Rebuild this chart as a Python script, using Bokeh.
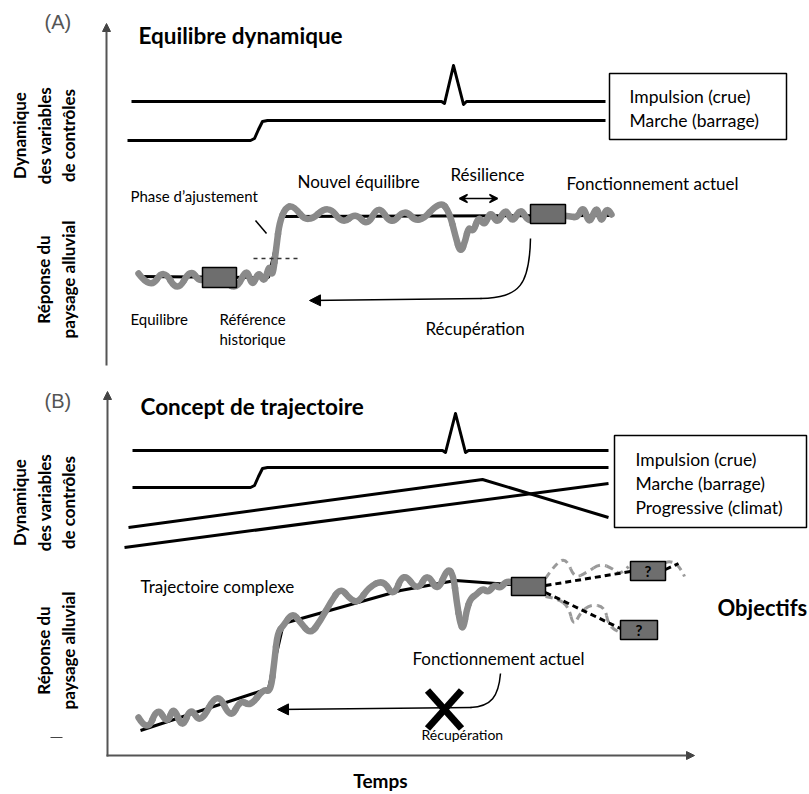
from bokeh.plotting import figure
from bokeh.models import Range1d, Arrow, NormalHead, VeeHead
from bokeh.core.properties import value
from bokeh.embed import file_html
from bokeh.resources import INLINE
import math

# ---------------- data (sketch coordinates, picture pixels) ----------------
# Panel A - control variables
A_imp_x = [131, 441, 444, 453, 463, 466, 605]
A_imp_y = [101, 101, 103, 65, 104, 101, 101]
A_step_x = [127, 250, 254, 258, 262, 267, 605]
A_step_y = [140, 140, 138, 129, 121, 120, 120]
# Panel A - landscape response
A_trend_x = [138, 268, 282, 612]
A_trend_y = [276, 277, 216, 215]
A_wave_x = [138, 150, 163, 177, 190, 200, 212, 225, 237, 246, 252, 258, 264, 269, 272, 276, 279, 285,
            293, 307, 328, 342, 355, 367, 378, 391, 404, 418, 440, 449, 455, 460, 465, 468, 473, 478,
            484, 490, 497, 505, 512, 520, 528, 538, 555, 570, 577, 583, 589, 596, 601, 606, 611]
A_wave_y = [273, 289, 268, 292, 268, 283, 270, 283, 288, 267, 287, 270, 283, 263, 278, 245, 222, 207,
            205, 223, 204, 224, 212, 226, 204, 225, 208, 224, 200, 212, 236, 253, 240, 226, 232, 215,
            226, 210, 224, 207, 223, 207, 222, 214, 214, 216, 217, 205, 225, 204, 224, 205, 214]
A_box_x = [219, 547.5]
A_box_y = [277, 213.5]

# Panel B - control variables
B_imp_x = [132, 442, 445, 455, 465, 468, 608]
B_imp_y = [450, 450, 452, 413, 452, 450, 450]
B_step_x = [132, 250, 254, 258, 262, 267, 608]
B_step_y = [487, 487, 485, 476, 468, 467, 467]
B_prog1_x = [128, 482, 608]
B_prog1_y = [527, 479, 517]
B_prog2_x = [124, 608]
B_prog2_y = [547, 483]
# Panel B - landscape response
B_trend_x = [140, 268, 283, 400, 455, 511]
B_trend_y = [730, 688, 623, 590, 580, 584]
B_wave_x = [138, 147, 157, 167, 173, 182, 190, 200, 217, 230, 240, 250, 263, 270, 274, 277, 283,
            292, 300, 310, 320, 330, 340, 350, 358, 368, 383, 393, 403, 417, 427, 437, 447, 453,
            456, 460, 463, 466, 470, 476, 482, 488, 494, 500, 506, 512]
B_wave_y = [717, 732, 706, 724, 705, 729, 706, 724, 690, 719, 699, 706, 688, 692, 660, 632, 625,
            612, 622, 634, 620, 602, 587, 599, 602, 587, 579, 597, 571, 591, 572, 592, 567, 575,
            600, 625, 628, 610, 598, 594, 588, 592, 584, 588, 580, 582]
B_up_x = [545, 630, 665, 678]
B_up_y = [585, 571, 569, 563]
B_low_x = [545, 620]
B_low_y = [592, 628]
B_gup_x = [545, 556, 566, 574, 586, 600, 612, 620, 628]
B_gup_y = [578, 562, 558, 578, 572, 563, 568, 575, 566]
B_gup2_x = [665, 676, 684]
B_gup2_y = [562, 558, 576]
B_glow_x = [545, 557, 568, 573, 580, 590, 604, 608, 615, 620]
B_glow_y = [596, 598, 606, 626, 612, 604, 606, 624, 630, 632]
B_box_x = [528, 647.5, 638.5]
B_box_y = [586, 570.5, 629.5]
B_box_w = [34, 35, 37]
B_box_h = [18, 19, 19]
B_box_txt = ["", "?", "?"]

FONT = value("Lato")
GREY = "#8a8a8a"

p = figure(width=809, height=794, x_range=Range1d(0, 809), y_range=Range1d(794, 0),
           output_backend="svg", toolbar_location=None, min_border=0,
           x_axis_location=None, y_axis_location=None, background_fill_color="white")
p.grid.visible = False
p.outline_line_color = None


def smooth(xs, ys, **kw):
    n = len(xs)
    x0, y0, x1, y1, cx, cy = [], [], [], [], [], []
    for i in range(1, n - 1):
        sx = xs[0] if i == 1 else (xs[i - 1] + xs[i]) / 2
        sy = ys[0] if i == 1 else (ys[i - 1] + ys[i]) / 2
        ex = xs[-1] if i == n - 2 else (xs[i] + xs[i + 1]) / 2
        ey = ys[-1] if i == n - 2 else (ys[i] + ys[i + 1]) / 2
        x0.append(sx); y0.append(sy); x1.append(ex); y1.append(ey)
        cx.append(xs[i]); cy.append(ys[i])
    p.quadratic(x0=x0, y0=y0, x1=x1, y1=y1, cx=cx, cy=cy, **kw)


def txt(x, y, s, size, bold=False, align="left", angle=0, color="black", font=FONT):
    p.text(x=[x], y=[y], text=[s], text_font=font, text_font_size=f"{size}px",
           text_font_style="bold" if bold else "normal", text_align=align,
           text_baseline="middle", angle=angle, text_color=color)


# axes
p.add_layout(Arrow(end=NormalHead(size=8, fill_color="#444", line_color="#444"),
                   x_start=106, y_start=365, x_end=106, y_end=23, line_color="#555", line_width=2))
p.add_layout(Arrow(end=NormalHead(size=8, fill_color="#444", line_color="#444"),
                   x_start=107, y_start=756, x_end=107, y_end=391, line_color="#555", line_width=2))
p.add_layout(Arrow(end=NormalHead(size=8, fill_color="#444", line_color="#444"),
                   x_start=106, y_start=755, x_end=694, y_end=755, line_color="#555", line_width=2))

# control variable lines
for xs, ys in [(A_imp_x, A_imp_y), (A_step_x, A_step_y), (B_imp_x, B_imp_y), (B_step_x, B_step_y),
               (B_prog1_x, B_prog1_y), (B_prog2_x, B_prog2_y)]:
    p.line(xs, ys, line_color="black", line_width=3, line_join="round")

# legend boxes
p.quad(left=[609, 614], right=[786, 806], top=[73, 435], bottom=[139, 527],
       fill_color="white", line_color="black", line_width=1.5)
for s, y in [("Impulsion (crue)", 96), ("Marche (barrage)", 120)]:
    txt(629, y, s, 17.5)
for s, y in [("Impulsion (crue)", 459), ("Marche (barrage)", 483), ("Progressive (climat)", 507)]:
    txt(635, y, s, 17.5)

# Panel A response
p.line(A_trend_x, A_trend_y, line_color="black", line_width=3)
smooth(A_wave_x, A_wave_y, line_color=GREY, line_width=6.5, line_cap="round")
p.rect(x=A_box_x, y=A_box_y, width=[34, 35], height=[20, 19], fill_color="#6e6e6e",
       line_color="black", line_width=1.5)
p.line([253, 297], [258, 258], line_color="#333", line_width=1.5, line_dash="4 4")
p.line([255, 266], [220, 233], line_color="black", line_width=1.5)
p.add_layout(Arrow(start=VeeHead(size=8, line_width=1.5), end=VeeHead(size=8, line_width=1.5),
                   x_start=459, y_start=198, x_end=497, y_end=198, line_width=1.5))
p.bezier(x0=[530], y0=[238], x1=[480], y1=[298], cx0=[529], cy0=[284], cx1=[520], cy1=[297],
         line_color="black", line_width=1.5)
p.add_layout(Arrow(end=NormalHead(size=11, fill_color="black"), x_start=481, y_start=298,
                   x_end=309, y_end=300, line_width=1.5))

# Panel B response
p.line(B_trend_x, B_trend_y, line_color="black", line_width=3)
smooth(B_wave_x, B_wave_y, line_color=GREY, line_width=6.5, line_cap="round")
smooth(B_gup_x, B_gup_y, line_color="#9a9a9a", line_width=3, line_dash="7 5")
smooth(B_gup2_x, B_gup2_y, line_color="#9a9a9a", line_width=3, line_dash="7 5")
smooth(B_glow_x, B_glow_y, line_color="#9a9a9a", line_width=3, line_dash="7 5")
p.line(B_up_x[:2], B_up_y[:2], line_color="black", line_width=3, line_dash="6 4")
p.line(B_up_x[2:], B_up_y[2:], line_color="black", line_width=3, line_dash="6 4")
p.line(B_low_x, B_low_y, line_color="black", line_width=3, line_dash="6 4")
p.rect(x=B_box_x, y=B_box_y, width=B_box_w, height=B_box_h, fill_color="#6e6e6e",
       line_color="black", line_width=1.5)
p.text(x=B_box_x, y=B_box_y, text=B_box_txt, text_font=FONT, text_font_size="15px",
       text_font_style="bold", text_align="center", text_baseline="middle", text_color="black")
p.bezier(x0=[500], y0=[673], x1=[470], y1=[707], cx0=[498], cy0=[696], cx1=[491], cy1=[706],
         line_color="black", line_width=1.5)
p.add_layout(Arrow(end=NormalHead(size=11, fill_color="black"), x_start=471, y_start=707,
                   x_end=277, y_end=709, line_width=1.5))
p.segment(x0=[427, 461], y0=[690, 690], x1=[461, 427], y1=[728, 728], line_color="black",
          line_width=7)
p.line([50, 62], [737, 737], line_color="#444", line_width=1)

# texts
txt(44, 21, "(A)", 20, color="#555", font=value("Liberation Sans"))
txt(44, 400, "(B)", 20, color="#555", font=value("Liberation Sans"))
txt(138, 35, "Equilibre dynamique", 22.5, bold=True)
txt(140, 406, "Concept de trajectoire", 22.5, bold=True)
txt(130, 195, "Phase d\u2019ajustement", 15)
txt(297, 181, "Nouvel \u00e9quilibre", 17)
txt(450, 174, "R\u00e9silience", 17)
txt(566, 183, "Fonctionnement actuel", 17)
txt(130, 318, "Equilibre", 15)
txt(219, 318, "R\u00e9f\u00e9rence", 15)
txt(219, 338, "historique", 15)
txt(425, 328, "R\u00e9cup\u00e9ration", 17)
txt(140, 586, "Trajectoire complexe", 17)
txt(717, 607, "Objectifs", 22, bold=True)
txt(412, 658, "Fonctionnement actuel", 17)
txt(421, 734, "R\u00e9cup\u00e9ration", 14)
txt(380, 780, "Temps", 19, bold=True, align="center")

for yc in (135, 502):
    txt(19, yc, "Dynamique", 17, bold=True, align="center", angle=math.pi / 2)
    txt(44, yc, "des variables", 17, bold=True, align="center", angle=math.pi / 2)
    txt(68, yc, "de contr\u00f4les", 17, bold=True, align="center", angle=math.pi / 2)
for yc in (279, 650):
    txt(43, yc, "R\u00e9ponse du", 17, bold=True, align="center", angle=math.pi / 2)
    txt(68, yc, "paysage alluvial", 17, bold=True, align="center", angle=math.pi / 2)

open("out.html", "w").write(file_html(p, INLINE))
